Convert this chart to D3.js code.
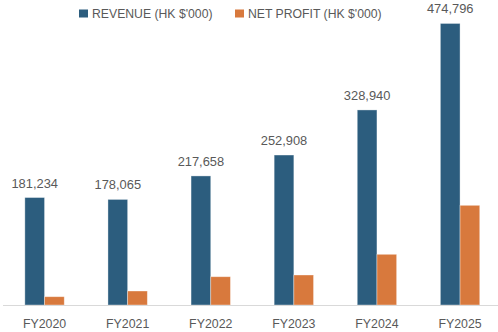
<!DOCTYPE html>
<html>
<head>
<meta charset="utf-8">
<script src="https://cdn.jsdelivr.net/npm/d3@7"></script>
<style>
  html, body { margin: 0; padding: 0; background: #fff; }
  svg { display: block; }
  text { font-family: "Liberation Sans", Arial, sans-serif; font-size: 13px; fill: #595959; }
</style>
</head>
<body>
<svg id="chart" width="498" height="332"></svg>
<script>
// Fiscal years shown on the category axis
const years = ["FY2020", "FY2021", "FY2022", "FY2023", "FY2024", "FY2025"];
// Revenue, HK$'000
const revenue = [181234, 178065, 217658, 252908, 328940, 474796];
// Net profit, HK$'000 (no labels on the chart)
const netProfit = [14000, 23600, 47700, 50600, 85500, 168100];
// Legend entries
const seriesNames = ["REVENUE (HK $'000)", "NET PROFIT (HK $'000)"];
const seriesColors = ["#2c5d7e", "#d8793d"];

const W = 498, H = 332;
const baseY = 305;
const svg = d3.select("#chart");

// Slightly condense text so it sets as narrow as a Calibri-style face
function condense(sel, k) {
  sel.each(function () {
    const len = this.getComputedTextLength();
    d3.select(this)
      .attr("textLength", len * k)
      .attr("lengthAdjust", "spacingAndGlyphs");
  });
}

const x0 = d3.scaleBand()
  .domain(years)
  .range([3, 501.6])
  .paddingInner(0.526)
  .paddingOuter(0.263);

const x1 = d3.scaleBand()
  .domain([0, 1])
  .range([0, x0.bandwidth()]);

const y = d3.scaleLinear()
  .domain([0, 500000])
  .range([baseY, 8.5]);

const rows = years.map((yr, i) => ({ year: yr, values: [revenue[i], netProfit[i]] }));

const groups = svg.append("g").selectAll("g")
  .data(rows)
  .join("g")
  .attr("transform", d => `translate(${x0(d.year)},0)`);

groups.selectAll("rect")
  .data(d => d.values.map((v, k) => ({ k, v })))
  .join("rect")
  .attr("x", d => x1(d.k))
  .attr("y", d => y(d.v))
  .attr("width", x1.bandwidth())
  .attr("height", d => baseY - y(d.v))
  .attr("fill", d => seriesColors[d.k])
  .attr("stroke", "rgba(255,255,255,0.45)")
  .attr("stroke-width", 0.8);

// Value labels above the revenue bars
groups.append("text")
  .attr("x", x1(0) + x1.bandwidth() / 2)
  .attr("y", d => y(d.values[0]) - 10)
  .attr("text-anchor", "middle")
  .text(d => d3.format(",")(d.values[0]))
  .call(condense, 0.99);

// Category axis
const xAxis = d3.axisBottom(x0).tickSize(0).tickPadding(0);
const axisG = svg.append("g")
  .attr("transform", `translate(0,${baseY})`)
  .call(xAxis);
axisG.select(".domain").remove();
axisG.selectAll("text")
  .attr("dy", null)
  .attr("y", 23)
  .style("font-size", "13px")
  .attr("font-family", null)
  .attr("fill", "#595959")
  .call(condense, 0.95);

svg.append("line")
  .attr("x1", 3).attr("x2", W)
  .attr("y1", baseY + 0.5).attr("y2", baseY + 0.5)
  .attr("stroke", "#d9d9d9")
  .attr("stroke-width", 1);

// Legend
const legendX = [79, 235];
const legend = svg.append("g").selectAll("g")
  .data(seriesNames)
  .join("g")
  .attr("transform", (d, i) => `translate(${legendX[i]},0)`);
legend.append("rect")
  .attr("x", 0).attr("y", 9.5)
  .attr("width", 9).attr("height", 8)
  .attr("fill", (d, i) => seriesColors[i]);
legend.append("text")
  .attr("x", 13).attr("y", 17.5)
  .text(d => d)
  .call(condense, 0.94);
</script>
</body>
</html>
